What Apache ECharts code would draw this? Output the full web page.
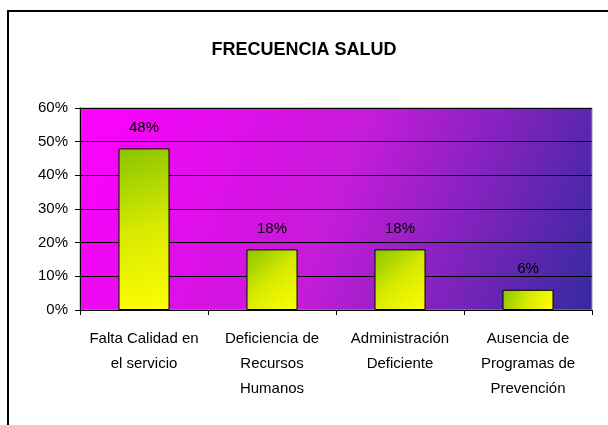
<!DOCTYPE html>
<html>
<head>
<meta charset="utf-8">
<script src="https://cdn.jsdelivr.net/npm/echarts@6/dist/echarts.min.js"></script>
<style>
html,body{margin:0;padding:0;background:#fff;}
#chart{width:608px;height:425px;}
</style>
</head>
<body>
<div id="chart"></div>
<script>
const chartTitle = 'FRECUENCIA SALUD';
const categories = ['Falta Calidad en\nel servicio', 'Deficiencia de\nRecursos\nHumanos', 'Administración\nDeficiente', 'Ausencia de\nProgramas de\nPrevención'];
const values = [0.48, 0.18, 0.18, 0.06];
const yTicks = [0, 0.1, 0.2, 0.3, 0.4, 0.5, 0.6];

const chart = echarts.init(document.getElementById('chart'), null, {renderer: 'canvas'});
const font = 'Liberation Sans, Arial, sans-serif';
chart.setOption({
  animation: false,
  backgroundColor: '#ffffff',
  graphic: [{
    type: 'polyline',
    shape: {points: [[8, 440], [8, 11], [620, 11]]},
    style: {stroke: '#000', lineWidth: 2, fill: null},
    z: 100
  }],
  title: {
    text: chartTitle,
    left: 'center',
    top: 36,
    textStyle: {fontFamily: font, fontSize: 18, fontWeight: 'bold', color: '#000'}
  },
  grid: {
    left: 80, right: 16, top: 108, bottom: 115,
    show: true,
    borderColor: '#999',
    borderWidth: 1,
    backgroundColor: new echarts.graphic.LinearGradient(0, 0, 1, 1, [
      {offset: 0, color: '#ff00ff'},
      {offset: 0.5, color: '#c41cd8'},
      {offset: 1, color: '#342aa0'}
    ])
  },
  xAxis: {
    type: 'category',
    data: categories,
    axisLine: {lineStyle: {color: '#000', width: 1}},
    axisTick: {show: true, alignWithLabel: false, length: 5, lineStyle: {color: '#000'}},
    axisLabel: {fontFamily: font, fontSize: 15, color: '#000', lineHeight: 25, margin: 16, interval: 0}
  },
  yAxis: {
    type: 'value',
    min: yTicks[0],
    max: yTicks[yTicks.length - 1],
    interval: 0.1,
    axisLine: {show: true, lineStyle: {color: '#000', width: 1}},
    axisTick: {show: true, length: 5, lineStyle: {color: '#000'}},
    splitLine: {show: true, lineStyle: {color: '#000', width: 1}},
    axisLabel: {fontFamily: font, fontSize: 15, color: '#000', margin: 12,
      formatter: v => Math.round(v * 100) + '%'}
  },
  series: [{
    type: 'bar',
    data: values,
    barWidth: 51,
    itemStyle: {
      borderColor: '#000',
      borderWidth: 1,
      color: new echarts.graphic.LinearGradient(0, 0, 1, 1, [
        {offset: 0, color: '#88c400'},
        {offset: 0.5, color: '#d8ea00'},
        {offset: 1, color: '#ffff00'}
      ])
    },
    label: {
      show: true,
      position: 'top',
      distance: 13,
      fontFamily: font,
      fontSize: 15,
      color: '#000',
      formatter: p => Math.round(p.value * 100) + '%'
    }
  }]
});
</script>
</body>
</html>
